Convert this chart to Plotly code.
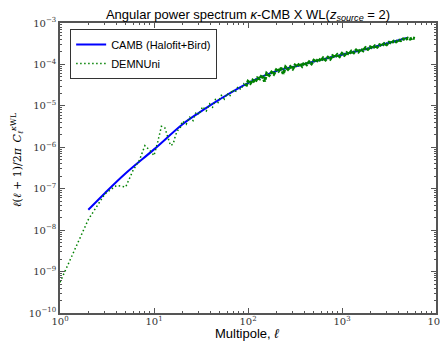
import plotly.graph_objects as go

# CAMB (Halofit+Bird) theory curve
camb_ell = [2, 3, 5, 10, 20, 30, 50, 100, 200, 357, 500, 1000, 2000, 3000, 5000]
camb_cl = [3.1e-8, 7.8e-8, 2.35e-7, 8.9e-7, 3.55e-6, 6.8e-6, 1.44e-5, 3.55e-5,
           6.9e-5, 9.6e-5, 1.17e-4, 1.72e-4, 2.5e-4, 3.2e-4, 4.4e-4]

# DEMNUni simulation measurement
demn_ell = [1, 2, 3, 4, 5, 6, 7, 8, 9, 10, 11, 12, 13, 14, 15, 16, 17, 18, 19,
            20, 22, 24, 26, 28, 30, 33, 36, 39, 42, 45, 48, 52, 56, 60, 64, 68, 73, 78, 84, 90, 95,
            100, 106, 112, 119, 126, 133, 141, 150, 158, 168, 178, 188, 200, 211, 224, 237,
            251, 266, 282, 299, 316, 335, 355, 376, 398, 422, 447, 473, 501, 531, 562, 596,
            631, 668, 708, 750, 794, 841, 891, 944, 1000, 1059, 1122, 1189, 1259, 1334,
            1413, 1496, 1585, 1679, 1778, 1884, 1995, 2113, 2239, 2371, 2512, 2661, 2818,
            2985, 3162, 3350, 3548, 3758, 3981, 4217, 4467, 4732, 5012, 5309, 5623, 5957]
demn_cl = [5.5e-10, 1.8e-8, 7.5e-8, 1.2e-7, 1.1e-7, 2.8e-7, 4.9e-7, 1.1e-6, 8.5e-7, 6.3e-7,
           1.4e-6, 3.2e-6, 3.0e-6, 1.8e-6, 1.1e-6, 1.2e-6, 2.0e-6, 2.6e-6, 2.9e-6,
           4.27e-6, 3.60e-6, 5.33e-6, 4.40e-6, 7.14e-6, 6.17e-6, 9.59e-6, 7.53e-6, 1.12e-5,
           9.29e-6, 1.42e-5, 1.21e-5, 1.79e-5, 1.46e-5, 2.01e-5, 1.69e-5, 2.48e-5, 2.10e-5,
           2.89e-5, 2.47e-5, 3.39e-5, 2.96e-5,
           3.89e-5, 3.50e-5, 4.15e-5, 3.73e-5, 4.74e-5, 4.47e-5, 5.55e-5, 3.88e-5, 6.07e-5,
           5.46e-5, 6.47e-5, 5.82e-5, 7.40e-5, 6.82e-5, 8.28e-5, 5.93e-5, 8.65e-5, 7.62e-5,
           8.83e-5, 7.78e-5, 9.66e-5, 8.91e-5, 1.06e-4, 9.10e-5, 1.12e-4, 9.95e-5, 1.15e-4,
           1.04e-4, 1.26e-4, 1.16e-4, 1.37e-4, 1.21e-4, 1.43e-4, 1.29e-4, 1.49e-4, 1.34e-4,
           1.62e-4, 1.49e-4, 1.73e-4, 1.55e-4, 1.84e-4, 1.66e-4, 1.91e-4, 1.76e-4, 2.09e-4,
           1.92e-4, 2.22e-4, 2.00e-4, 2.34e-4, 2.15e-4, 2.52e-4, 2.32e-4, 2.66e-4, 2.45e-4,
           2.81e-4, 2.61e-4, 2.99e-4, 2.82e-4, 3.20e-4, 3.01e-4, 3.43e-4, 3.24e-4, 3.65e-4,
           3.50e-4, 3.89e-4, 3.76e-4, 4.12e-4, 3.94e-4, 4.29e-4, 4.10e-4, 4.37e-4, 4.22e-4]

x_ticks = [1, 10, 100, 1000, 10000]
x_tick_text = ["10<sup>0</sup>", "10<sup>1</sup>", "10<sup>2</sup>", "10<sup>3</sup>", "10<sup>4</sup>"]
y_ticks = [1e-10, 1e-9, 1e-8, 1e-7, 1e-6, 1e-5, 1e-4, 1e-3]
y_tick_text = ["10<sup>\u221210</sup>", "10<sup>\u22129</sup>", "10<sup>\u22128</sup>",
               "10<sup>\u22127</sup>", "10<sup>\u22126</sup>", "10<sup>\u22125</sup>",
               "10<sup>\u22124</sup>", "10<sup>\u22123</sup>"]

x_minor = [d * 10 ** k for k in range(0, 4) for d in range(2, 10)]
y_minor = [d * 10.0 ** k for k in range(-10, -3) for d in range(2, 10)]

split = demn_ell.index(95)

frame = "#555555"
green = "#008000"
fig = go.Figure()
fig.add_trace(go.Scatter(x=camb_ell, y=camb_cl, mode="lines", name="CAMB (Halofit+Bird)",
                         line=dict(color="#0000ff", width=2, shape="spline")))
fig.add_trace(go.Scatter(x=demn_ell[:split + 1], y=demn_cl[:split + 1], mode="lines", name="DEMNUni",
                         legendgroup="demn",
                         line=dict(color=green, width=1.5, dash="1.5px,2.5px")))
fig.add_trace(go.Scatter(x=demn_ell[split:], y=demn_cl[split:], mode="lines", name="DEMNUni",
                         legendgroup="demn", showlegend=False,
                         line=dict(color=green, width=3, dash="3px,1px")))

axis_common = dict(type="log", showline=True, linecolor=frame, linewidth=1.5, mirror="ticks",
                   ticks="inside", ticklen=5, tickcolor=frame, tickwidth=1,
                   showgrid=False, zeroline=False, automargin=False, ticklabeloverflow="allow",
                   tickfont=dict(family="DejaVu Serif", size=10, color="#333333"))
fig.update_xaxes(range=[0, 4], tickvals=x_ticks, ticktext=x_tick_text, ticklabelstandoff=-2,
                 minor=dict(tickvals=x_minor, ticks="inside", ticklen=2.5, tickcolor=frame, showgrid=False),
                 **axis_common)
fig.update_yaxes(range=[-10, -3], tickvals=y_ticks, ticktext=y_tick_text,
                 minor=dict(tickvals=y_minor, ticks="inside", ticklen=2.5, tickcolor=frame, showgrid=False),
                 **axis_common)

# axis titles placed as annotations (pixel mapping: plot area 60..436 x 23..313)
fig.add_annotation(text="Multipole, <i>\u2113</i>", xref="paper", yref="paper",
                   x=(247 - 60) / 376, y=-(333 - 313) / 290, xanchor="center", yanchor="middle",
                   showarrow=False, font=dict(family="Liberation Sans", size=13, color="#000000"))
fig.add_annotation(text="<i>\u2113</i>(<i>\u2113</i> + 1)/2<i>\u03c0</i>\u2002<i>C</i><sub><i>\u2113</i></sub><sup><i>\u03ba</i>WL</sup>",
                   xref="paper", yref="paper", x=-(60 - 17) / 376, y=(313 - 160) / 290,
                   xanchor="center", yanchor="middle", textangle=-90, showarrow=False,
                   font=dict(family="DejaVu Serif", size=11, color="#000000"))

fig.update_layout(
    width=440, height=343,
    margin=dict(l=60, r=4, t=23, b=30),
    paper_bgcolor="white", plot_bgcolor="white",
    title=dict(text="Angular power spectrum <i>\u03ba</i>-CMB X WL(<i>z</i><sub><i>source</i></sub> = 2)",
               x=0.5, xref="paper", xanchor="center", y=1 - 14 / 343, yref="container", yanchor="middle",
               font=dict(family="Liberation Sans", size=13, color="#000000")),
    legend=dict(x=0.027, y=0.979, xanchor="left", yanchor="top", bgcolor="white",
                bordercolor="#333333", borderwidth=1,
                font=dict(family="Liberation Sans", size=11, color="#000000"),
                tracegroupgap=0, itemwidth=30),
    showlegend=True,
)

fig.write_html("out.html", config={"displayModeBar": False},
               post_script="document.body.style.margin='0px';")
